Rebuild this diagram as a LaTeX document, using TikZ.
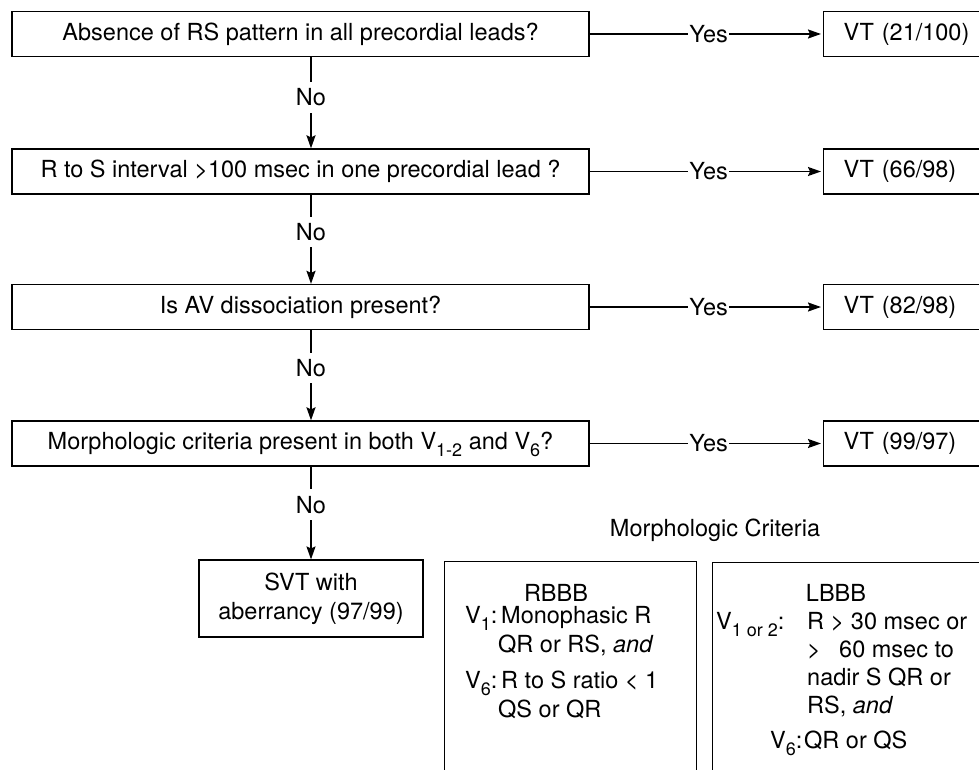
\documentclass[tikz,border=0pt]{standalone}
\usepackage{fontspec}
\setmainfont{TeX Gyre Heros}
\usetikzlibrary{arrows.meta}
% lowered subscript that does not change the line's height or depth
\newcommand\sbs[1]{\raisebox{-7pt}[0pt][0pt]{\fontsize{18}{18}\selectfont #1}}
\begin{document}
\begin{tikzpicture}[x=1pt,y=-1pt,
  every node/.style={font=\fontsize{23.5}{29}\selectfont},
  qbox/.style={draw, line width=1.3pt, minimum width=577pt, minimum height=45pt, inner sep=0pt},
  vtbox/.style={draw, line width=1.3pt, anchor=west, minimum height=45pt,
                text width=130pt, inner xsep=20pt, inner ysep=0pt, align=left},
  resbox/.style={draw, line width=1.1pt, minimum width=224pt, minimum height=77pt, align=center},
  critbox/.style={draw, line width=1pt, anchor=north west, minimum height=240pt},
  flow/.style={line width=1.7pt, -{Stealth[length=13pt,width=9pt,inset=2pt]}},
  nolbl/.style={fill=white, inner xsep=1pt, inner ysep=6.5pt},
  yeslbl/.style={fill=white, inner xsep=1pt, inner ysep=3pt},
  txt/.style={anchor=base west, inner sep=0pt},
  ttl/.style={anchor=base, inner sep=0pt}]

\useasboundingbox (0,0) rectangle (979,770);
\clip (0,0) rectangle (979,770);

% questions down the left-hand column
\node[qbox] (q1) at (300.5,34)    {Absence of RS pattern in all precordial leads?};
\node[qbox] (q2) at (300.5,171.5) {R to S interval >100 msec in one precordial lead ?};
\node[qbox] (q3) at (300.5,307)   {Is AV dissociation present?};
\node[qbox] (q4) at (300.5,443.5) {Morphologic criteria present in both V\sbs{1-2} and V\sbs{6}?};

% outcomes on the right
\node[vtbox] (vt1) at (823,34)    {VT (21/100)};
\node[vtbox] (vt2) at (823,171.5) {VT (66/98)};
\node[vtbox] (vt3) at (823,307)   {VT (82/98)};
\node[vtbox] (vt4) at (823,443.5) {VT (99/97)};

\node[resbox] (svt) at (311,598.5) {SVT with\\aberrancy (97/99)};

% the "No" spine
\coordinate (spine) at (311,0);
\draw[flow] (q1.south -| spine) -- node[nolbl,pos=0.44]{No} (q2.north -| spine);
\draw[flow] (q2.south -| spine) -- node[nolbl,pos=0.42]{No} (q3.north -| spine);
\draw[flow] (q3.south -| spine) -- node[nolbl,pos=0.42]{No} (q4.north -| spine);
\draw[flow] (q4.south -| spine) -- node[nolbl,pos=0.41]{No} (svt.north -| spine);

% the "Yes" branches
\draw[flow, shorten >=2pt] (q1.east) -- node[yeslbl,pos=0.51]{Yes} (vt1.west);
\draw[flow, shorten >=2pt] (q2.east) -- node[yeslbl,pos=0.51]{Yes} (vt2.west);
\draw[flow, shorten >=2pt] (q3.east) -- node[yeslbl,pos=0.51]{Yes} (vt3.west);
\draw[flow, shorten >=2pt] (q4.east) -- node[yeslbl,pos=0.51]{Yes} (vt4.west);

% morphologic criteria panel
\node[ttl] (mtitle) at (715,536) {Morphologic Criteria};
\node[critbox, minimum width=252pt] (rbbb) at (444,561) {};
\node[critbox, minimum width=290pt] (lbbb) at (712,562) {};

\node[ttl] (rt)  at (556,601) {RBBB};
\node[txt] (r1k) at (465,623) {V\sbs{1}:};
\node[txt] (r1)  at (501,623) {Monophasic R};
\node[txt] (r2)  at (498,652) {QR or RS, \textit{and}};
\node[txt] (r3k) at (465,688) {V\sbs{6}:};
\node[txt] (r3)  at (501,688) {R to S ratio < 1};
\node[txt] (r4)  at (498,717) {QS or QR};

\node[ttl] (lt)  at (836,601) {LBBB};
\node[txt] (l1k) at (716,629) {V\sbs{1 or 2}:};
\node[txt] (l1)  at (807,629) {R > 30 msec or};
\node[txt] (l2)  at (807,657) {>\hspace{0.5em} 60 msec to};
\node[txt] (l3)  at (807,685) {nadir S QR or};
\node[txt] (l4)  at (807,713) {RS, \textit{and}};
\node[txt] (l5k) at (770,748) {V\sbs{6}:};
\node[txt] (l5)  at (804,748) {QR or QS};
\end{tikzpicture}
\end{document}
